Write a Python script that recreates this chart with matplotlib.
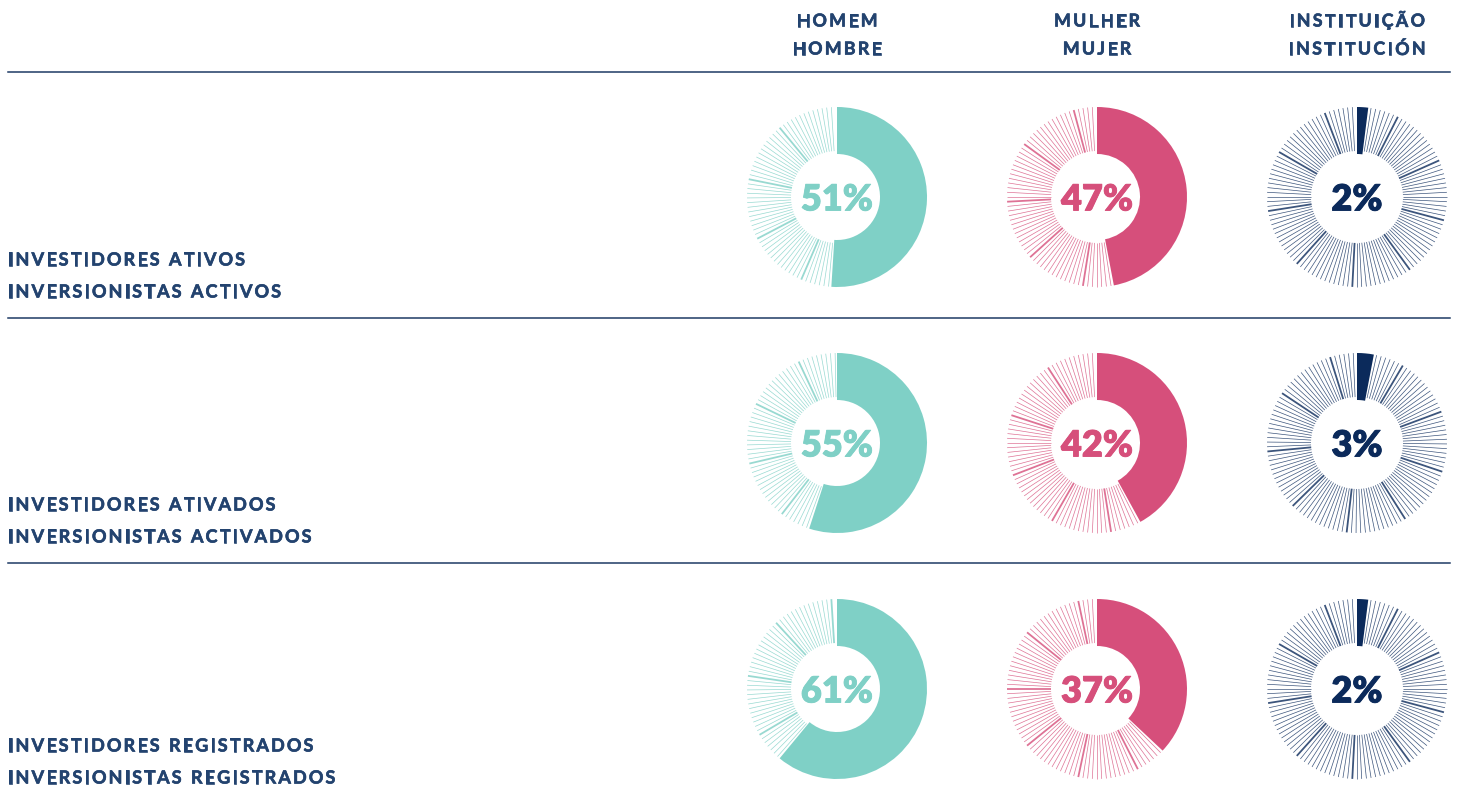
import matplotlib
matplotlib.use("Agg")
import matplotlib.pyplot as plt
import matplotlib.patheffects as pe
import numpy as np
from matplotlib.collections import LineCollection

# dados
groups_pt = ["HOMEM", "MULHER", "INSTITUIÇÃO"]
groups_es = ["HOMBRE", "MUJER", "INSTITUCIÓN"]
rows_pt = ["INVESTIDORES ATIVOS", "INVESTIDORES ATIVADOS", "INVESTIDORES REGISTRADOS"]
rows_es = ["INVERSIONISTAS ACTIVOS", "INVERSIONISTAS ACTIVADOS", "INVERSIONISTAS REGISTRADOS"]
shares = [
    [51, 47, 2],
    [55, 42, 3],
    [61, 37, 2],
]

colors = ["#7fd0c6", "#d64f7b", "#0b2a5b"]
text_color = "#23436f"
rule_color = "#1e3a64"

W, H = 1458, 797
col_x = [837, 1097, 1357]
row_y = [197, 443, 689]
rule_y = [72, 318, 563]
label_y = [(260, 292), (505, 537), (746, 778)]

R_OUT, R_IN = 90, 43
FONT = "Lato"

fig = plt.figure(figsize=(W / 100, H / 100), dpi=100)
bg = fig.add_axes([0, 0, 1, 1])
bg.set_xlim(0, W)
bg.set_ylim(H, 0)
bg.axis("off")
renderer = fig.canvas.get_renderer()
bold_fx = [pe.withStroke(linewidth=0.45, foreground=text_color)]


def spaced_text(ax, x, y, s, size, spacing, ha="left", color=text_color):
    """Texto com espaçamento entre letras (tracking)."""
    widths = []
    for ch in s:
        if ch == " ":
            widths.append(size * 100 / 72 * 0.28)
            continue
        t = ax.text(0, 0, ch, fontsize=size, family=FONT, weight="bold")
        widths.append(t.get_window_extent(renderer).width)
        t.remove()
    total = sum(widths) + spacing * (len(s) - 1)
    x0 = x - total / 2 if ha == "center" else x
    for ch, w in zip(s, widths):
        if ch != " ":
            ax.text(x0, y, ch, fontsize=size, family=FONT, weight="bold",
                    color=color, ha="left", va="center", path_effects=bold_fx)
        x0 += w + spacing


# cabeçalhos
for cx, pt, es in zip(col_x, groups_pt, groups_es):
    spaced_text(bg, cx, 21, pt, 12.8, 2.4, ha="center")
    spaced_text(bg, cx, 49, es, 12.8, 2.4, ha="center")

# linhas separadoras
for y in rule_y:
    bg.plot([8, 1450], [y, y], color=rule_color, lw=1.1)

# rótulos das linhas
for (y1, y2), pt, es in zip(label_y, rows_pt, rows_es):
    spaced_text(bg, 8, y1, pt, 13, 2.1)
    spaced_text(bg, 8, y2, es, 13, 2.1)

# rosquinhas
S = 95
for r, cy in enumerate(row_y):
    for c, cx in enumerate(col_x):
        pct = shares[r][c]
        col = colors[c]
        ax = fig.add_axes([(cx - S) / W, 1 - (cy + S) / H, 2 * S / W, 2 * S / H])

        ax.pie([pct, 100 - pct], colors=[col, "none"], startangle=90,
               counterclock=False, radius=R_OUT,
               wedgeprops=dict(width=R_OUT - R_IN, edgecolor="none"))

        # parte restante com traços radiais
        a_end = 90 - pct * 3.6
        angs = np.arange(a_end - 1.8, 90 - 360 + 1.0, -3.0)
        th = np.deg2rad(angs)
        segs = [[((R_IN + 3) * np.cos(t), (R_IN + 3) * np.sin(t)),
                 (R_OUT * np.cos(t), R_OUT * np.sin(t))] for t in th]
        lws = [1.3 if k % 13 == 6 else 0.5 for k in range(len(segs))]
        ax.add_collection(LineCollection(segs, colors=col, linewidths=lws,
                                         alpha=0.8))

        ax.text(0, -3, f"{pct}%", ha="center", va="center", fontsize=26,
                family=FONT, weight="heavy", color=col,
                path_effects=[pe.withStroke(linewidth=0.6, foreground=col)])

        ax.set_xlim(-S, S)
        ax.set_ylim(-S, S)
        ax.set_aspect("equal")
        ax.axis("off")

fig.savefig("out.png", dpi=100)
